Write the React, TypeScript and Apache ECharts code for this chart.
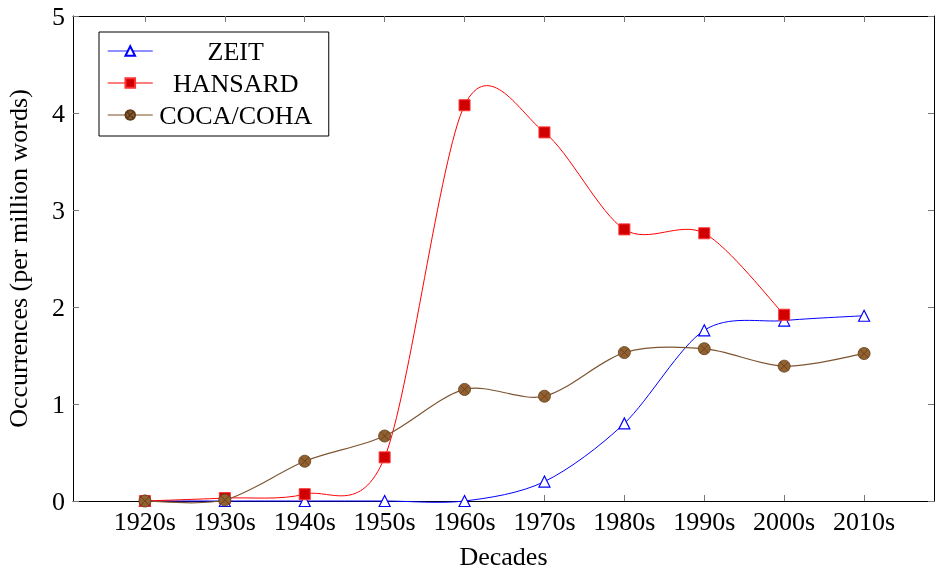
import React, { useEffect, useRef } from "react";
import * as echarts from "echarts";

const decades = [1920, 1930, 1940, 1950, 1960, 1970, 1980, 1990, 2000, 2010];
const zeit = [0, 0, 0, 0, 0, 0.2, 0.8, 1.76, 1.86, 1.91];
const hansard = [0, 0.03, 0.07, 0.45, 4.08, 3.8, 2.8, 2.76, 1.92];
const coca = [0, 0.01, 0.41, 0.67, 1.15, 1.08, 1.53, 1.57, 1.39, 1.52];
const yTicks = [0, 1, 2, 3, 4, 5];

const FONT = "Liberation Serif";
const FS = 26;
const TENSION = 0.1526;
const otimes =
  "path://M10,0 A10,10 0 1,1 9.99,0 Z M2.93,2.93 L17.07,17.07 M17.07,2.93 L2.93,17.07";

const pair = (vals: number[]) => vals.map((v, i) => [decades[i], v]);

// smooth curve (cardinal spline, like pgfplots "smooth") through points mapped by the axes
function curveSeries(name: string, vals: number[], color: string, width: number, z: number) {
  const data = pair(vals);
  return {
    name,
    type: "custom",
    data,
    z,
    silent: true,
    encode: { x: 0, y: 1 },
    renderItem: (params: any, api: any) => {
      if (params.dataIndex !== 0) return null;
      const p = data.map((d) => api.coord(d));
      const n = p.length;
      let d = `M${p[0][0]},${p[0][1]}`;
      for (let i = 0; i < n - 1; i++) {
        const a = p[i];
        const b = p[i + 1];
        const pa = i > 0 ? p[i - 1] : a;
        const nb = i + 2 < n ? p[i + 2] : b;
        const c1 = [a[0] + TENSION * (b[0] - pa[0]), a[1] + TENSION * (b[1] - pa[1])];
        const c2 = [b[0] - TENSION * (nb[0] - a[0]), b[1] - TENSION * (nb[1] - a[1])];
        d += ` C${c1[0]},${c1[1]} ${c2[0]},${c2[1]} ${b[0]},${b[1]}`;
      }
      return {
        type: "path",
        shape: { pathData: d },
        style: { fill: "none", stroke: color, lineWidth: width },
      };
    },
  };
}

export default function App() {
  const ref = useRef<HTMLDivElement>(null);
  useEffect(() => {
    if (!ref.current) return;
    document.body.style.margin = "0";
    document.body.style.overflow = "hidden";
    const chart = echarts.init(ref.current, null, { renderer: "svg" });
    const tickStyle = { show: true, inside: true, length: 6, lineStyle: { color: "#777", width: 1 } };
    const labelStyle = { fontFamily: FONT, fontSize: FS, color: "#000" };
    chart.setOption({
      animation: false,
      textStyle: { fontFamily: FONT },
      grid: { left: 73, right: 4, top: 16, bottom: 70, containLabel: false, outerBoundsMode: "none" },
      legend: {
        left: 99,
        top: 32,
        orient: "vertical",
        backgroundColor: "#fff",
        borderColor: "#000",
        borderWidth: 1,
        borderRadius: 0,
        padding: [6, 15, 8, 8],
        itemGap: 6,
        itemWidth: 45,
        itemHeight: 12,
        formatter: "{a|{name}}",
        textStyle: {
          ...labelStyle,
          rich: { a: { width: 156, align: "center", fontSize: FS, fontFamily: FONT, lineHeight: 26 } },
        },
        data: [
          { name: "ZEIT", lineStyle: { color: "#6a6aff", width: 1.5, opacity: 1 } },
          { name: "HANSARD", lineStyle: { color: "#ff5555", width: 1.5, opacity: 1 } },
          { name: "COCA/COHA", lineStyle: { color: "#a88a6c", width: 1.5, opacity: 1 } },
        ],
      },
      xAxis: [
        {
          type: "value",
          min: 1911,
          max: 2018.75,
          name: "Decades",
          nameLocation: "middle",
          nameGap: 42,
          nameTextStyle: labelStyle,
          axisLine: { show: true, lineStyle: { color: "#000", width: 1 } },
          axisTick: { ...tickStyle, customValues: decades },
          axisLabel: {
            customValues: decades,
            formatter: (v: number) => `${v}s`,
            ...labelStyle,
            margin: 7,
          },
          splitLine: { show: false },
        },
        {
          type: "value",
          position: "top",
          min: 1911,
          max: 2018.75,
          axisLine: { show: true, onZero: false, lineStyle: { color: "#000", width: 1 } },
          axisTick: { ...tickStyle, customValues: decades },
          axisLabel: { show: false },
          splitLine: { show: false },
        },
      ],
      yAxis: [
        {
          type: "value",
          min: 0,
          max: 5,
          interval: 1,
          name: "Occurrences (per million words)",
          nameLocation: "middle",
          nameGap: 42,
          nameTextStyle: labelStyle,
          axisLine: { show: true, lineStyle: { color: "#000", width: 1 } },
          axisTick: { ...tickStyle, customValues: yTicks },
          axisLabel: { ...labelStyle, margin: 8 },
          splitLine: { show: false },
        },
        {
          type: "value",
          position: "right",
          min: 0,
          max: 5,
          interval: 1,
          axisLine: { show: true, onZero: false, lineStyle: { color: "#000", width: 1 } },
          axisTick: tickStyle,
          axisLabel: { show: false },
          splitLine: { show: false },
        },
      ],
      series: [
        curveSeries("ZEIT curve", zeit, "#0000ff", 1, 1),
        {
          name: "ZEIT",
          type: "line",
          data: pair(zeit),
          symbol: "triangle",
          symbolSize: 11,
          showAllSymbol: true,
          lineStyle: { color: "#0000ff", width: 0, opacity: 0 },
          itemStyle: { color: "#ffffff", borderColor: "#0000ff", borderWidth: 1.2 },
          z: 2,
        },
        curveSeries("HANSARD curve", hansard, "#ff0000", 1, 3),
        {
          name: "HANSARD",
          type: "line",
          data: pair(hansard),
          symbol: "rect",
          symbolSize: 11,
          showAllSymbol: true,
          lineStyle: { color: "#ff0000", width: 0, opacity: 0 },
          itemStyle: { color: "#d00000", borderColor: "#ff3333", borderWidth: 1 },
          z: 4,
        },
        curveSeries("COCA/COHA curve", coca, "#7d5532", 1.2, 5),
        {
          name: "COCA/COHA",
          type: "line",
          data: pair(coca),
          symbol: otimes,
          symbolSize: 12,
          showAllSymbol: true,
          lineStyle: { color: "#7d5532", width: 0, opacity: 0 },
          itemStyle: { color: "#93602f", borderColor: "#5e3d1c", borderWidth: 0.8 },
          z: 6,
        },
      ],
    });
    return () => chart.dispose();
  }, []);
  return (
    <div
      ref={ref}
      style={{ position: "fixed", left: 0, top: 0, width: 938, height: 571, overflow: "hidden" }}
    />
  );
}
